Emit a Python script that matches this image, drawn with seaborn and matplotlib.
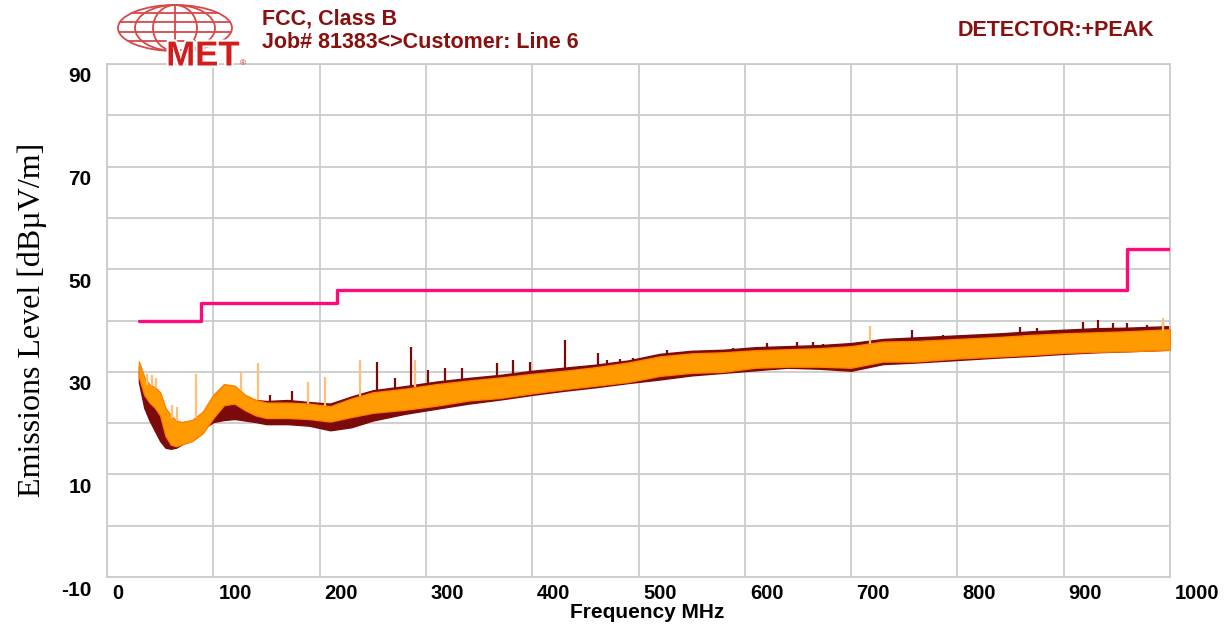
import numpy as np
import matplotlib
matplotlib.use('Agg')
import matplotlib.pyplot as plt
import matplotlib.patheffects as pe
from matplotlib.patches import Ellipse
from matplotlib.transforms import ScaledTranslation
import seaborn as sns

# --- data (frequency in MHz, level in dBuV/m) ---
limit_freq = [30, 88, 216, 960, 1000]
limit_level = [40, 43.5, 46, 54, 54]

band_freq = [30, 35, 40, 45, 50, 55, 60, 65, 70, 80, 90, 100, 110, 120, 130, 140,
             150, 170, 190, 210, 230, 250, 280, 310, 340, 370, 400, 430, 460, 490,
             520, 550, 580, 610, 640, 670, 700, 730, 760, 800, 840, 870, 900, 930,
             960, 1000]
orange_hi = [32, 29, 27.5, 27, 26, 23, 21.5, 20.5, 20.2, 20.6, 22.2, 25.5, 27.6, 27.3,
             25.5, 24.5, 24, 24, 23.8, 23.3, 24.8, 26, 26.7, 27.6, 28.3, 28.9, 29.6,
             30.2, 30.9, 31.8, 33, 33.6, 33.8, 34.2, 34.4, 34.6, 35, 35.9, 36, 36.4,
             36.8, 37.2, 37.5, 37.7, 37.9, 38.3]
orange_lo = [29, 25.5, 24, 23, 21.5, 17.5, 15.8, 15.5, 15.8, 16.5, 18, 21, 23.5, 23.8,
             22.5, 21.5, 21, 21, 20.8, 20.3, 21.2, 22, 22.6, 23.4, 24.4, 24.9, 25.8,
             26.6, 27.3, 28, 29.2, 29.8, 30, 30.8, 31, 31, 30.8, 32, 32, 32.6, 33,
             33.3, 33.7, 33.9, 34, 34.3]
maroon_hi = [31, 28, 26, 25, 24, 21, 19.5, 19, 19, 19.5, 21, 23.5, 26, 26, 24.8, 24.5,
             24.3, 24.5, 24.1, 23.8, 25.2, 26.4, 27.2, 28.1, 28.8, 29.4, 30.2, 30.8, 31.4,
             32.2, 33.5, 34.1, 34.3, 34.8, 35, 35.2, 35.6, 36.4, 36.7, 37.1, 37.5, 37.9,
             38.2, 38.5, 38.6, 38.9]
maroon_lo = [28, 23, 20.5, 18.5, 16.5, 15.2, 15, 15.2, 15.8, 17, 18.8, 20.2, 20.6, 20.8,
             20.5, 20.2, 19.8, 19.8, 19.5, 18.6, 19.2, 20.5, 21.8, 22.8, 23.8, 24.6,
             25.5, 26.3, 27, 27.8, 28.5, 29.3, 29.8, 30.3, 30.8, 30.6, 30.2, 31.5, 31.8,
             32.3, 32.8, 33.1, 33.5, 33.8, 34, 34.3]

light_spike_freq = [38, 42, 46, 61, 66, 84, 126, 142, 189, 205, 238, 290, 718, 993]
light_spike_top = [29.5, 29.3, 28.8, 23.5, 23.2, 29.5, 30, 31.8, 28, 29, 32.3, 32.3, 38.9, 40.5]
light_spike_base = [27.5, 27.3, 26.8, 21, 20.5, 21, 26.5, 24.5, 23.8, 23.3, 25.3, 27, 35.5, 38]

dark_spike_freq = [153, 174, 254, 271, 286, 302, 318, 334, 367, 382, 398, 431, 462, 470,
                   483, 495, 527, 542, 589, 611, 621, 649, 664, 674, 683, 757, 786, 821,
                   859, 875, 890, 918, 932, 946, 960, 978, 993]
dark_spike_top = [25.5, 26.2, 32, 28.8, 34.9, 30.4, 30.7, 30.7, 31.7, 32.3, 32, 36.2, 33.7,
                  32.3, 32.5, 32.7, 34.3, 33.9, 34.6, 34.8, 35.6, 35.8, 35.8, 35.4, 34.8,
                  38.1, 37.2, 37.2, 38.7, 38.5, 38.1, 39.7, 40.1, 39.5, 39.5, 39.2, 39.5]
dark_spike_base = [24, 24, 26.2, 26.5, 27, 27.3, 27.8, 28.2, 29, 29.3, 29.6, 30.3, 31, 31.2,
                   31.5, 31.8, 33, 33.4, 33.8, 34.2, 34.3, 34.4, 34.5, 34.6, 34.7, 36, 36.2,
                   36.7, 37, 37.2, 37.4, 37.6, 37.7, 37.8, 37.9, 38, 38.2]

x_ticks = list(range(0, 1001, 100))
y_ticks = list(range(-10, 91, 10))
y_labels = ['-10', '', '10', '', '30', '', '50', '', '70', '', '90']

title_1 = 'FCC, Class B'
title_2 = 'Job# 81383<>Customer: Line 6'
detector = 'DETECTOR:+PEAK'

# --- style ---
sns.set_style('white')
plt.rcParams['font.family'] = ['Liberation Sans', 'DejaVu Sans']
plt.rcParams['text.color'] = 'black'
plt.rcParams['xtick.color'] = 'black'
plt.rcParams['ytick.color'] = 'black'

W, H = 1232, 629
fig = plt.figure(figsize=(W / 100, H / 100), dpi=100)
ax = fig.add_axes([107 / W, 1 - 577 / H, (1170 - 107) / W, (577 - 64) / H])

grid_c = '#cbcbcb'
orange = '#ff9a00'
orange_edge = '#ff7f00'
light_orange = '#ffbf78'
maroon = '#7d0a0a'
pink = '#ff0a7a'
text_red = '#8a1010'

ax.fill_between(band_freq, maroon_lo, maroon_hi, color=maroon, lw=1.0, zorder=2)
ax.vlines(dark_spike_freq, dark_spike_base, dark_spike_top, color=maroon, lw=1.6, zorder=2)
ax.fill_between(band_freq, orange_lo, orange_hi, facecolor=orange, edgecolor=orange_edge,
                lw=1.0, zorder=3)
ax.vlines(light_spike_freq, light_spike_base, light_spike_top, color=light_orange, lw=1.6, zorder=3)
sns.lineplot(x=limit_freq, y=limit_level, drawstyle='steps-post', color=pink, lw=2.4,
             ax=ax, zorder=4)

ax.set_xlim(0, 1000)
ax.set_ylim(-10, 90)
ax.set_xticks(x_ticks)
ax.set_xticklabels([str(v) for v in x_ticks])
ax.set_yticks(y_ticks)
ax.set_yticklabels(y_labels)
ax.grid(True, color=grid_c, lw=1.3)
ax.tick_params(length=0, labelcolor='black')
ax.tick_params(axis='x', pad=5)
ax.tick_params(axis='y', pad=11)
for s in ax.spines.values():
    s.set_color(grid_c)
    s.set_linewidth(1.3)
ax.set_xlabel('')
ax.set_ylabel('')

for lab in ax.get_xticklabels():
    lab.set_fontweight('bold')
    lab.set_fontsize(14.5)
    lab.set_horizontalalignment('left')
    lab.set_transform(lab.get_transform() + ScaledTranslation(5 / 100, 0, fig.dpi_scale_trans))
for lab in ax.get_yticklabels():
    lab.set_fontweight('bold')
    lab.set_fontsize(15)
    lab.set_transform(lab.get_transform() + ScaledTranslation(0, -11 / 100, fig.dpi_scale_trans))

fig.text(647 / W, 1 - 612 / H, 'Frequency MHz', ha='center', va='center', fontsize=15,
         fontweight='bold', color='black')
fig.text(32 / W, 1 - 320 / H, 'Emissions Level [dB\u00b5V/m]', ha='center', va='center',
         rotation=90, fontsize=23, color='black', family=['Liberation Serif', 'DejaVu Serif'])

fig.text(262 / W, 1 - 19 / H, title_1, ha='left', va='center', fontsize=15.5,
         fontweight='bold', color=text_red)
fig.text(262 / W, 1 - 43 / H, title_2, ha='left', va='center', fontsize=15.5,
         fontweight='bold', color=text_red)
fig.text(958 / W, 1 - 31 / H, detector, ha='left', va='center', fontsize=15.5,
         fontweight='bold', color=text_red)

# --- MET logo (pixel coordinates inside a small axes) ---
lg = fig.add_axes([112 / W, 1 - 72 / H, 140 / W, 72 / H], zorder=5)
lg.set_xlim(112, 252)
lg.set_ylim(72, 0)
lg.set_axis_off()
cx, cy, rw, rh = 175, 28, 57, 23
globe_c = '#d84848'
for w in [2 * rw, 80, 44]:
    lg.add_patch(Ellipse((cx, cy), w, 2 * rh, fill=False, ec=globe_c, lw=1.3))
lg.plot([cx, cx], [cy - rh, cy + rh], color=globe_c, lw=1.3)
for dy in [-15, -6, 4, 13]:
    hw = rw * np.sqrt(1 - (dy / rh) ** 2)
    lg.plot([cx - hw, cx + hw], [cy + dy, cy + dy], color=globe_c, lw=1.3)
lg.text(203, 56, 'MET', ha='center', va='center', fontsize=25, fontweight='bold',
        color='#d01e1e', path_effects=[pe.withStroke(linewidth=3, foreground='white')])
lg.text(243, 64, '\u00ae', ha='center', va='center', fontsize=6, color='#d01e1e')

fig.savefig('out.png', dpi=100)
